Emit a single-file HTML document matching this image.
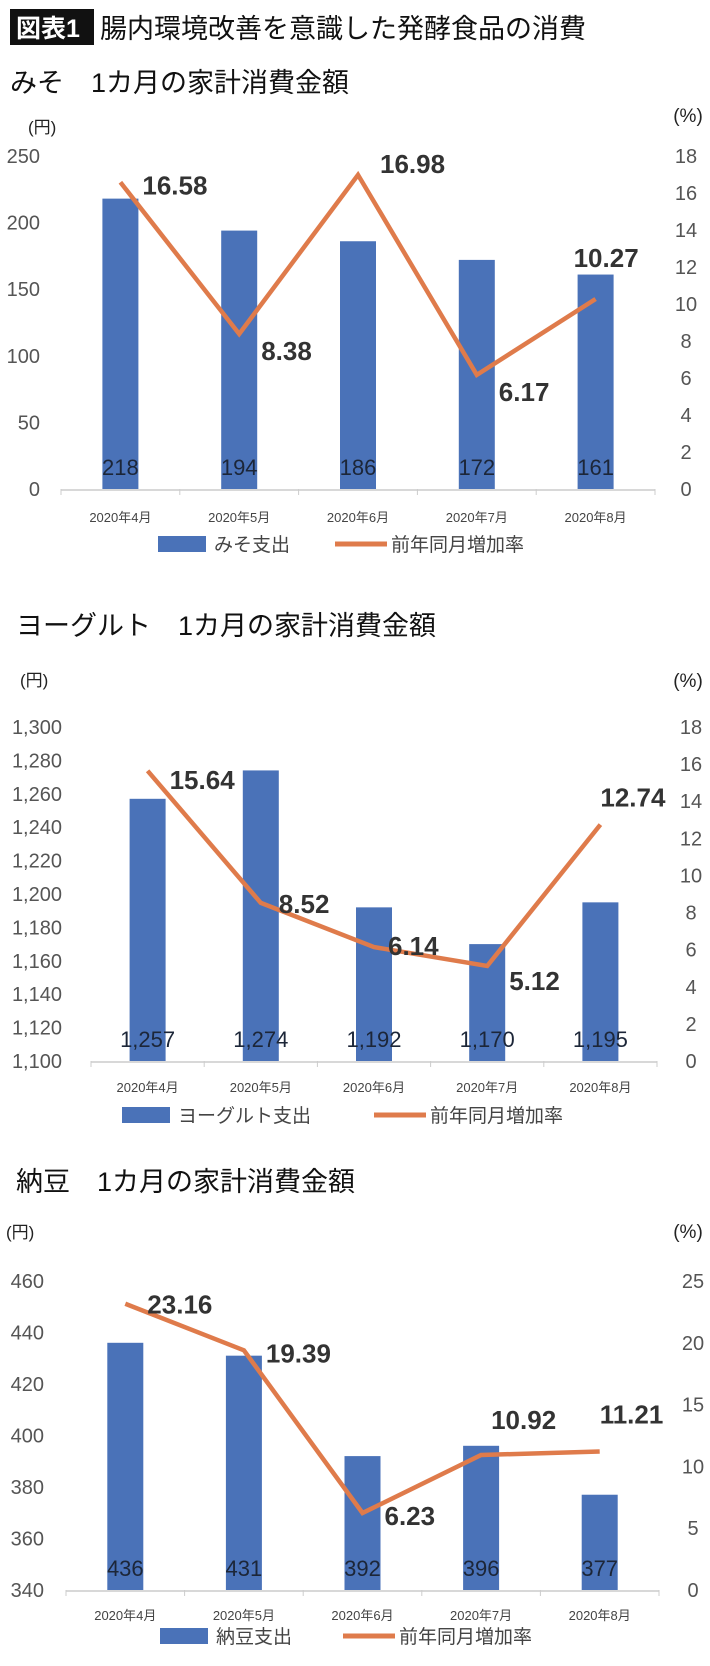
<!DOCTYPE html>
<html><head><meta charset="utf-8"><style>
html,body{margin:0;padding:0;background:#fff;width:710px;height:1666px;overflow:hidden}
svg{display:block}
text{font-family:"Liberation Sans","Noto Sans CJK JP",sans-serif}
</style></head><body>
<svg id="s" width="710" height="1666" viewBox="0 0 710 1666" xmlns="http://www.w3.org/2000/svg">
<rect x="10" y="9" width="84" height="36" fill="#111"/>
<text x="16" y="37" font-size="25" fill="#fff" font-weight="bold">図表1</text>
<text x="100" y="38" font-size="27" fill="#111">腸内環境改善を意識した発酵食品の消費</text>
</svg>
<script>
const cats=["2020年4月","2020年5月","2020年6月","2020年7月","2020年8月"];
const misoSpend=[218,194,186,172,161];
const misoRate=[16.58,8.38,16.98,6.17,10.27];
const misoLeftTicks=[0,50,100,150,200,250];
const misoRightTicks=[0,2,4,6,8,10,12,14,16,18];
const yogSpend=[1257,1274,1192,1170,1195];
const yogRate=[15.64,8.52,6.14,5.12,12.74];
const yogLeftTicks=[1100,1120,1140,1160,1180,1200,1220,1240,1260,1280,1300];
const yogRightTicks=[0,2,4,6,8,10,12,14,16,18];
const nattoSpend=[436,431,392,396,377];
const nattoRate=[23.16,19.39,6.23,10.92,11.21];
const nattoLeftTicks=[340,360,380,400,420,440,460];
const nattoRightTicks=[0,5,10,15,20,25];

const NS="http://www.w3.org/2000/svg";
const svg=document.getElementById('s');
function el(tag,attrs,txt){const e=document.createElementNS(NS,tag);for(const k in attrs)e.setAttribute(k,attrs[k]);if(txt!==undefined)e.textContent=txt;svg.appendChild(e);return e;}
function fmt(v){return v.toLocaleString('en-US');}

function chart(c){
  const lMin=c.lt[0],lMax=c.lt[c.lt.length-1],rMin=c.rt[0],rMax=c.rt[c.rt.length-1];
  const yL=v=>c.y0-(v-lMin)/(lMax-lMin)*(c.y0-c.y1);
  const yR=v=>c.y0-(v-rMin)/(rMax-rMin)*(c.y0-c.y1);
  const step=(c.x1-c.x0)/cats.length;
  const xC=i=>c.x0+step*(i+0.5);
  let t;
  t=el('text',{x:c.hx,y:c.hy,'font-size':27,fill:'#111'},c.heading);
  
  
  t=el('text',{x:c.ux,y:c.uy,'font-size':17,fill:'#222'},'(円)');
  
  
  t=el('text',{x:688,y:c.py,'font-size':19,fill:'#222','text-anchor':'middle'},'(%)');
  
  
  c.lt.forEach(v=>{
    t=el('text',{x:c.lx,y:yL(v)+7,'font-size':20,fill:'#555','text-anchor':'end'},fmt(v));
    
    
  });
  c.rt.forEach(v=>{
    t=el('text',{x:c.rx,y:yR(v)+7,'font-size':20,fill:'#555','text-anchor':'middle'},v);
    
    
  });
  c.spend.forEach((v,i)=>{
    const r=el('rect',{x:xC(i)-18,y:yL(v),width:36,height:c.y0-yL(v),fill:'#4a72b8'});
    
    
    t=el('text',{x:xC(i),y:c.y0-14,'font-size':22,fill:'#1c2638','text-anchor':'middle','font-family':'"Liberation Sans Narrow","Liberation Sans",sans-serif'},fmt(v));
    
    
  });
  const ax=el('line',{x1:c.x0,y1:c.y0+1,x2:c.x1,y2:c.y0+1,stroke:'#ccc','stroke-width':1.5});
  
  
  for(let i=0;i<=cats.length;i++){
    const tk=el('line',{x1:c.x0+step*i,y1:c.y0,x2:c.x0+step*i,y2:c.y0+6,stroke:'#ccc'});
    
    
  }
  cats.forEach((s,i)=>{
    t=el('text',{x:xC(i),y:c.cy,'font-size':13,fill:'#444','text-anchor':'middle'},s);
    
    
  });
  const pts=c.rate.map((v,i)=>xC(i)+','+yR(v)).join(' ');
  const pl=el('polyline',{points:pts,fill:'none',stroke:'#df7b4b','stroke-width':4.5,'stroke-linejoin':'miter'});
  
  
  c.rate.forEach((v,i)=>{
    t=el('text',{x:xC(i)+c.off[i][0],y:yR(v)+c.off[i][1],'font-size':26,'font-weight':'bold',fill:'#333','font-family':'"Liberation Sans Narrow","Liberation Sans",sans-serif'},v.toFixed(2));
    
    
  });
  const lg=el('rect',{x:c.lgx,y:c.ly-10,width:48,height:16,fill:'#4a72b8'});
  
  
  t=el('text',{x:c.lgx+56,y:c.ly+5,'font-size':19,fill:'#444'},c.legend);
  
  
  const ll=el('line',{x1:c.lgx2,y1:c.ly-2,x2:c.lgx2+52,y2:c.ly-2,stroke:'#df7b4b','stroke-width':5});
  
  
  t=el('text',{x:c.lgx2+56,y:c.ly+5,'font-size':19,fill:'#444'},'前年同月増加率');
  
  
}

chart({id:'miso',heading:'みそ　1カ月の家計消費金額',hx:10,hy:92,ux:28,uy:133,py:122,
  x0:61,x1:655,y0:489,y1:156,lx:40,rx:686,cy:522,ly:546,lgx:158,lgx2:335,
  lt:misoLeftTicks,rt:misoRightTicks,spend:misoSpend,rate:misoRate,legend:'みそ支出',
  off:[[22,12],[22,26],[22,-2],[22,26],[-22,-32]]});
chart({id:'yogurt',heading:'ヨーグルト　1カ月の家計消費金額',hx:16,hy:635,ux:20,uy:686,py:687,
  x0:91,x1:657,y0:1061,y1:727,lx:62,rx:691,cy:1092,ly:1117,lgx:122,lgx2:374,
  lt:yogLeftTicks,rt:yogRightTicks,spend:yogSpend,rate:yogRate,legend:'ヨーグルト支出',
  off:[[22,18],[18,10],[14,8],[22,24],[0,-18]]});
chart({id:'natto',heading:'納豆　1カ月の家計消費金額',hx:16,hy:1191,ux:6,uy:1238,py:1238,
  x0:66,x1:659,y0:1590,y1:1281,lx:44,rx:693,cy:1620,ly:1638,lgx:160,lgx2:343,
  lt:nattoLeftTicks,rt:nattoRightTicks,spend:nattoSpend,rate:nattoRate,legend:'納豆支出',
  off:[[22,10],[22,12],[22,12],[10,-26],[0,-28]]});
</script>
</body></html>
